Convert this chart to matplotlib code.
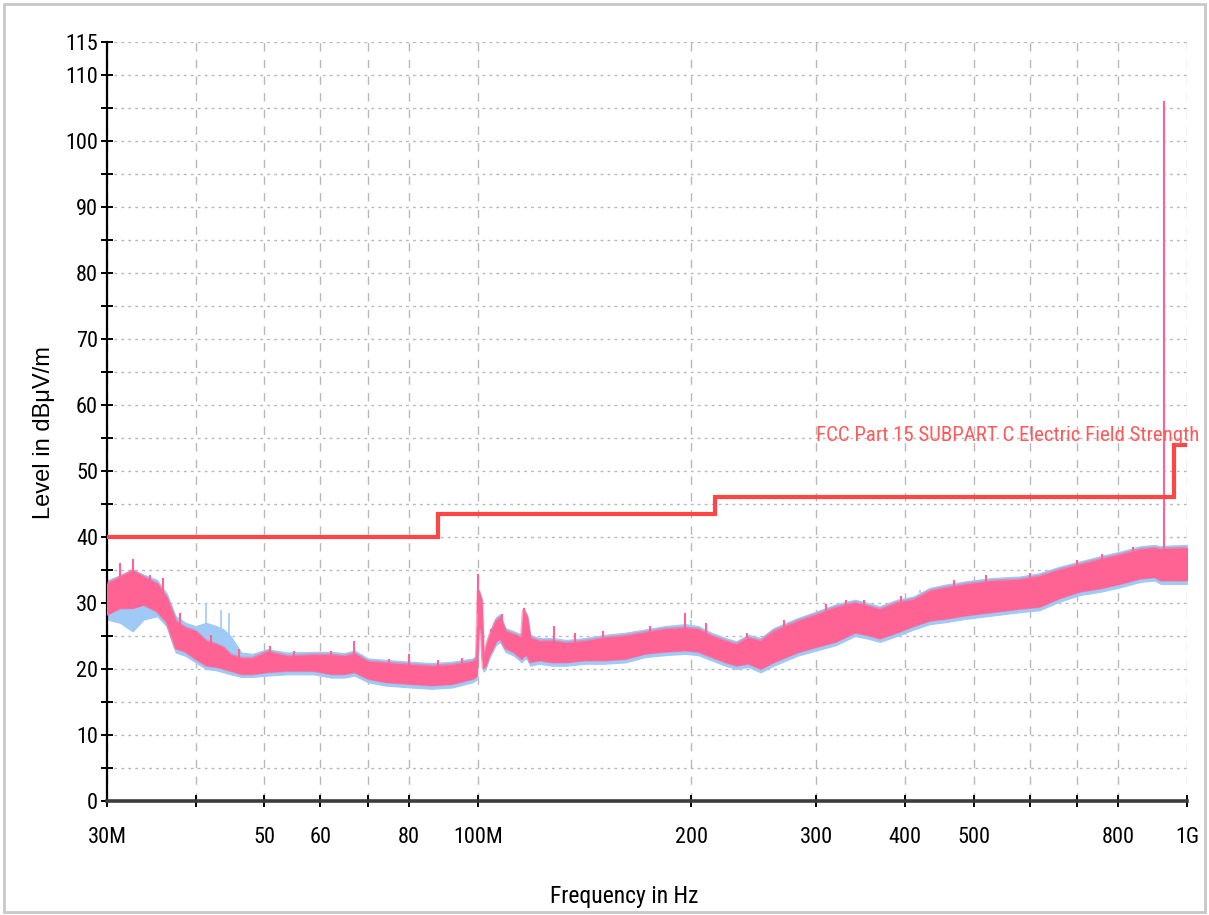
import matplotlib
matplotlib.use('Agg')
import matplotlib.pyplot as plt
from matplotlib.patches import Rectangle
from matplotlib import font_manager
import numpy as np

# frequency points (MHz) where the emission band edges were taken
freq = [30, 31.3, 32.6, 33.8, 35.3, 36.4, 37.5, 38.7, 40, 41.4, 42.8, 43.8, 44.8,
        46.4, 48.1, 50.5, 53.9, 58.6, 62.1, 64.8, 67, 70, 73.9, 80.5, 86.1, 92,
        98.4, 99.6, 100.2, 101.2, 101.8, 102.5, 103.7, 106, 107.5, 109.4, 112.5,
        115.3, 116, 117.3, 118.5, 122, 127.2, 133.4, 141.8, 151.3, 161.4, 172.2,
        183.7, 196, 204.5, 213.5, 223.4, 231.6, 240.4, 250.6, 261.3, 282.2, 300,
        319.6, 340.5, 354.9, 368.8, 390, 412, 434, 457, 488, 532, 580, 619, 661,
        706, 755, 806, 860, 900, 918, 940, 1000]

# vertical polarisation trace (pink), upper / lower edge in dBuV/m
pink_hi = [32.9, 33.9, 34.9, 33.9, 32.9, 30.8, 27.2, 26.2, 25.7, 24.2, 23.7, 23.2, 22.1,
           21.6, 21.6, 22.6, 21.9, 22.1, 22.1, 21.9, 22.3, 21.1, 20.9, 20.6, 20.4, 20.6,
           21.1, 21.5, 31.8, 30.3, 21.5, 22.8, 24.7, 27.2, 27.8, 25.7, 25.2,
           24.7, 28.8, 27.8, 24.7, 24.2, 24.2, 23.9, 24.2, 24.7, 25.0, 25.5,
           26.0, 26.2, 26.0, 25.0, 24.2, 23.7, 24.7, 24.2, 25.7, 27.2, 28.2,
           29.3, 30.0, 29.5, 29.0, 30.0, 30.5, 31.8, 32.3, 32.8, 33.3, 33.5, 34.0, 35.0,
           35.8, 36.6, 37.3, 38.1, 38.3, 38.1, 38.2, 38.3]
pink_lo = [28.3, 29.3, 29.3, 29.8, 28.8, 27.2, 23.2, 22.7, 21.6, 20.6, 20.4, 20.1, 19.8,
           19.3, 19.3, 19.6, 19.8, 19.8, 19.3, 19.3, 19.6, 18.6, 18.1, 17.8, 17.6, 17.8,
           18.6, 19.0, 26.2, 26.2, 20.2, 20.5, 22.1, 24.2, 24.7, 23.2, 22.6,
           21.6, 22.0, 22.2, 21.1, 21.4, 21.1, 21.1, 21.4, 21.4, 21.6, 22.4,
           22.7, 22.9, 22.7, 21.9, 21.1, 20.6, 20.9, 20.1, 21.1, 22.6, 23.4,
           24.2, 25.6, 25.2, 24.7, 25.6, 26.6, 27.4, 27.7, 28.2, 28.7, 29.2, 29.5, 30.8,
           31.8, 32.3, 33.0, 33.8, 34.0, 33.5, 33.5, 33.5]

# horizontal polarisation trace (blue), mostly hidden behind the pink one
blue_hi = [33.4, 34.2, 35.0, 34.3, 33.5, 31.5, 28.0, 27.0, 26.5, 27.0, 26.5, 26.0, 25.0,
           22.5, 22.3, 23.0, 22.5, 22.6, 22.6, 22.4, 22.8, 21.6, 21.4, 21.1, 20.9, 21.1,
           21.6, 22.0, 32.0, 30.8, 22.0, 23.3, 25.2, 27.8, 28.3, 26.2, 25.7,
           25.2, 29.3, 28.3, 25.2, 24.7, 24.7, 24.4, 24.7, 25.2, 25.5, 26.0,
           26.5, 26.8, 26.5, 25.5, 24.7, 24.2, 25.2, 24.7, 26.2, 27.7, 28.7,
           29.8, 30.5, 30.0, 29.5, 30.5, 31.0, 32.3, 32.8, 33.3, 33.8, 34.0, 34.5, 35.5,
           36.3, 37.1, 37.8, 38.6, 38.8, 38.6, 38.7, 38.8]
blue_lo = [27.5, 27.0, 25.7, 27.5, 28.0, 26.5, 22.5, 22.0, 21.0, 20.0, 19.8, 19.5, 19.2,
           18.8, 18.8, 19.0, 19.2, 19.2, 18.7, 18.7, 19.0, 18.0, 17.5, 17.2, 17.0, 17.2,
           18.0, 18.4, 25.5, 25.6, 19.6, 19.9, 21.5, 23.6, 24.1, 22.6, 22.0,
           21.0, 21.4, 21.6, 20.5, 20.8, 20.5, 20.5, 20.8, 20.8, 21.0, 21.8,
           22.1, 22.3, 22.1, 21.3, 20.5, 20.0, 20.3, 19.5, 20.5, 22.0, 22.8,
           23.6, 25.0, 24.6, 24.1, 25.0, 26.0, 26.8, 27.1, 27.6, 28.1, 28.6, 28.9, 30.2,
           31.2, 31.7, 32.4, 33.2, 33.4, 32.9, 32.9, 32.9]

# isolated peaks sticking out of the band (MHz, dBuV/m)
pink_peak_f = [31.3, 32.6, 34.5, 36.0, 38.0, 42.0, 46.0, 51.0, 55.0, 62.0, 67.0, 75.0, 80.0,
               88.0, 95.0, 100.0, 104.5, 108.0, 116.0, 128.0, 137.0, 150.0, 175.0, 196.0,
               210.0, 240.0, 270.0, 310.0, 330.0, 350.0, 395.0, 470.0, 520.0, 600.0, 700.0,
               760.0, 840.0, 928.0]
pink_peak_v = [36.0, 36.7, 34.3, 33.8, 28.5, 25.2, 23.0, 23.5, 22.7, 22.8, 24.2, 21.5, 22.2,
               21.3, 21.7, 34.4, 26.0, 28.3, 29.3, 26.5, 25.5, 25.8, 26.5, 28.5,
               27.0, 25.5, 27.5, 29.8, 30.5, 30.5, 31.0, 33.5, 34.2, 34.5, 36.5,
               37.5, 38.5, 106.0]
blue_peak_f = [35.0, 41.4, 43.5, 44.6, 200.0, 420.0, 880.0]
blue_peak_v = [33.5, 30.0, 29.0, 28.5, 27.5, 32.0, 38.0]

# FCC Part 15 limit
limit_f = [30, 88, 88, 216, 216, 960, 960, 1000]
limit_v = [40, 40, 43.5, 43.5, 46, 46, 54, 54]

xtick_vals = [30, 40, 50, 60, 70, 80, 100, 200, 300, 400, 500, 600, 700, 800, 1000]
xtick_text = ['30M', '', '50', '60', '', '80', '100M', '200', '300', '400', '500', '', '', '800', '1G']
ytick_vals = list(range(0, 116, 5))
ytick_text = [str(v) if v % 10 == 0 or v == 115 else '' for v in ytick_vals]


def pick_narrow():
    # prefer a condensed face if one is installed, otherwise plain Liberation Sans
    fonts = font_manager.fontManager.ttflist
    names = {f.name for f in fonts}
    for n in ['Liberation Sans Narrow', 'Arial Narrow', 'Roboto Condensed', 'Open Sans Condensed',
              'DejaVu Sans Condensed', 'Noto Sans Condensed']:
        if n in names:
            return dict(family=[n, 'DejaVu Sans']), True
    for f in fonts:
        if f.name == 'DejaVu Sans' and f.stretch == 'condensed' and f.weight == 400 and f.style == 'normal':
            return dict(family=['DejaVu Sans'], fontstretch='condensed'), True
    return dict(family=['Liberation Sans', 'DejaVu Sans']), False


nf, is_narrow = pick_narrow()
tick_size = 16 if is_narrow else 14
legend_size = 15 if is_narrow else 13
xlabel_size = 17 if is_narrow else 14

PINK = '#ff6394'
BLUE = '#9fcaf5'
RED = '#ff4646'

fig = plt.figure(figsize=(12.09, 9.15), dpi=100)
ax = fig.add_axes([107/1209, 1-801/915, 1080/1209, 759/915])

ax.fill_between(freq, blue_lo, blue_hi, color=BLUE, lw=0.8, zorder=2)
ax.vlines(blue_peak_f, np.interp(blue_peak_f, freq, blue_hi), blue_peak_v, color=BLUE, lw=1.2, zorder=2)
ax.fill_between(freq, pink_lo, pink_hi, color=PINK, lw=0.8, zorder=3)
ax.plot(freq, pink_hi, color=PINK, lw=2.5, alpha=0.55, zorder=3)
ax.plot(freq, pink_lo, color=PINK, lw=2.5, alpha=0.55, zorder=3)
ax.vlines(pink_peak_f, np.interp(pink_peak_f, freq, pink_hi), pink_peak_v, color=PINK, lw=1.5, zorder=3)

ax.plot(limit_f, limit_v, color=RED, lw=3, zorder=4, solid_joinstyle='miter')
ax.text(300, 54.6, 'FCC Part 15 SUBPART C Electric Field Strength', color='#ff5a5a',
        fontsize=legend_size, ha='left', va='baseline', clip_on=False, zorder=5, **nf)

ax.set_xscale('log')
ax.set_xlim(30, 1000)
ax.set_ylim(0, 115)
ax.set_xticks(xtick_vals)
ax.set_xticklabels(xtick_text, fontsize=tick_size, **nf)
ax.xaxis.set_minor_locator(matplotlib.ticker.NullLocator())
ax.set_yticks(ytick_vals)
ax.set_yticklabels(ytick_text, fontsize=tick_size, **nf)

ax.grid(axis='x', color='#b8b8b8', lw=1, ls=(0, (6, 6)))
ax.grid(axis='y', color='#b8b8b8', lw=1, ls=(0, (2, 3)))
ax.set_axisbelow(True)

for side in ['top', 'right']:
    ax.spines[side].set_visible(False)
ax.spines['left'].set_color('black')
ax.spines['left'].set_linewidth(1.6)
ax.spines['bottom'].set_color('#3c3c3c')
ax.spines['bottom'].set_linewidth(2.6)
ax.tick_params(axis='both', direction='inout', length=9, width=1.4, color='black')
ax.tick_params(axis='x', pad=14)
ax.tick_params(axis='y', pad=2)

fig.text(624/1209, 1-897/915, 'Frequency in Hz', fontsize=xlabel_size,
         ha='center', va='center', **nf)
fig.text(44/1209, 1-433/915, 'Level in dB\u03bcV/m', family=['Liberation Sans', 'DejaVu Sans'],
         fontsize=17, rotation=90, ha='center', va='center')

fig.patches.append(Rectangle((4/1209, 1-912/915), 1201/1209, 908/915, transform=fig.transFigure,
                             fill=False, edgecolor='#c8c8c8', lw=2))

fig.savefig('out.png', dpi=100)
